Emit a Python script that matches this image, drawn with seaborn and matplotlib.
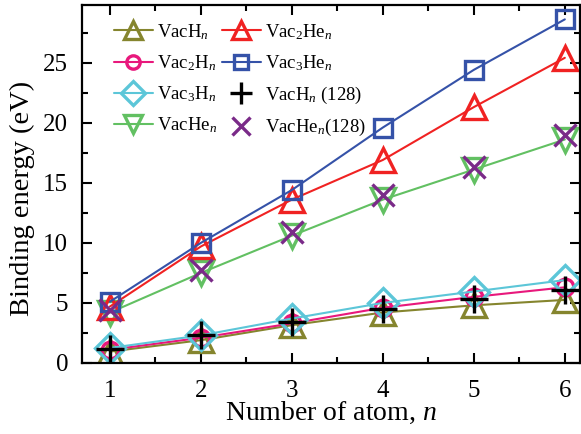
import numpy as np
import pandas as pd
import seaborn as sns
import matplotlib.pyplot as plt
from matplotlib.ticker import MultipleLocator

# number of atoms
n = [1, 2, 3, 4, 5, 6]

# binding energies (eV)
vach = [0.95, 1.9, 3.15, 4.2, 4.8, 5.25]
vac2h = [1.1, 2.1, 3.3, 4.6, 5.5, 6.3]
vac3h = [1.25, 2.3, 3.7, 5.0, 5.95, 6.9]
vache = [4.2, 7.5, 10.6, 13.6, 16.1, 18.6]
vac2he = [4.7, 9.7, 13.6, 16.9, 21.3, 25.4]
vac3he = [5.1, 10.0, 14.4, 19.6, 24.4, 28.6]
vach_128 = [1.2, 2.3, 3.45, 4.5, 5.3, 6.1]
vache_128 = [4.4, 7.75, 10.9, 14.0, 16.3, 19.0]

labels = ['VacH$_n$', 'Vac$_2$H$_n$', 'Vac$_3$H$_n$', 'VacHe$_n$',
          'Vac$_2$He$_n$', 'Vac$_3$He$_n$', 'VacH$_n$ (128)', 'VacHe$_n$(128)']

sns.set_style('ticks')
plt.rcParams['font.family'] = ['Liberation Serif', 'DejaVu Serif']
plt.rcParams['mathtext.fontset'] = 'custom'
plt.rcParams['mathtext.rm'] = 'Liberation Serif'
plt.rcParams['mathtext.it'] = 'Liberation Serif:italic'
plt.rcParams['text.color'] = 'black'
plt.rcParams['axes.labelcolor'] = 'black'
plt.rcParams['xtick.color'] = 'black'
plt.rcParams['ytick.color'] = 'black'
plt.rcParams['axes.edgecolor'] = 'black'

fig = plt.figure(figsize=(5.81, 4.34), dpi=100)
ax = fig.add_axes([0.141, 0.1636, 0.857, 0.825])

series = [
    (vach, '#85852e', '^', '-'),
    (vac2h, '#e8187c', 'o', '-'),
    (vac3h, '#5cc6d8', 'D', '-'),
    (vache, '#62c062', 'v', '-'),
    (vac2he, '#f02222', '^', '-'),
    (vac3he, '#3552a8', 's', '-'),
    (vach_128, 'black', '+', ''),
    (vache_128, '#7a2a88', 'x', ''),
]
sizes = {'^': 17, 'v': 17, 'o': 12, 'D': 15, 's': 13, '+': 20, 'x': 16}

for (vals, col, mk, ls), lab in zip(series, labels):
    sns.lineplot(x=n, y=vals, ax=ax, color=col, marker=mk, linestyle=ls,
                 linewidth=1.5, markersize=sizes[mk], markerfacecolor='none',
                 markeredgecolor=col, markeredgewidth=2.4, label=lab)

ax.set_xlim(0.692, 6.165)
ax.set_ylim(0, 29.8)
ax.xaxis.set_major_locator(MultipleLocator(1))
ax.xaxis.set_minor_locator(MultipleLocator(0.5))
ax.yaxis.set_major_locator(MultipleLocator(5))
ax.yaxis.set_minor_locator(MultipleLocator(2.5))
ax.tick_params(which='both', direction='in', top=True, right=True, width=1.5)
ax.tick_params(which='major', length=7, labelsize=18)
ax.tick_params(axis='x', which='major', pad=12)
ax.tick_params(axis='y', which='major', pad=10)
ax.tick_params(which='minor', length=4)
for s in ax.spines.values():
    s.set_linewidth(1.6)

ax.set_xlabel('Number of atom, $\\mathit{n}$', fontsize=20, labelpad=-1)
ax.set_ylabel('Binding energy (eV)', fontsize=20.5)
ax.yaxis.set_label_coords(-0.094, 0.46)

ax.legend(ncol=2, loc='upper left', bbox_to_anchor=(0.03, 1.0), frameon=False,
          fontsize=13.5, handlelength=2.1, handletextpad=0.2, columnspacing=0.25,
          labelspacing=0.62, markerscale=0.8)

plt.savefig('out.png', dpi=100)
